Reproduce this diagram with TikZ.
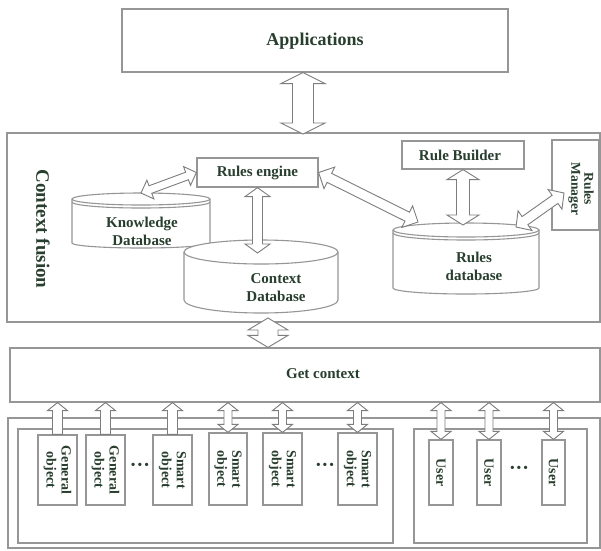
\documentclass[tikz,border=0pt]{standalone}
\usepackage{fontspec}
\setmainfont{Liberation Serif}
\usetikzlibrary{calc}
\definecolor{tx}{RGB}{40,62,46}
\definecolor{ln}{RGB}{150,150,150}
\definecolor{al}{RGB}{125,125,125}
\newcommand\fsbig{\fontsize{18}{20}\selectfont}
\newcommand\fscf{\fontsize{19}{21}\selectfont}
\newcommand\fsmid{\fontsize{15}{18}\selectfont}
\newcommand\fsobj{\fontsize{14}{15}\selectfont}
\newcommand\fsrm{\fontsize{13.5}{13}\selectfont}
\newcommand\fsdots{\fontsize{20}{20}\selectfont}
% double-headed block arrow: #1 start, #2 end, #3 shaft half width, #4 head half width, #5 head length
\newcommand\twoway[5]{%
 \filldraw[barrow] (#1) -- ($(#1)!#5!(#2)!#4!90:(#2)$) -- ($(#1)!#5!(#2)!#3!90:(#2)$)
 -- ($(#2)!#5!(#1)!#3!-90:(#1)$) -- ($(#2)!#5!(#1)!#4!-90:(#1)$) -- (#2)
 -- ($(#2)!#5!(#1)!#4!90:(#1)$) -- ($(#2)!#5!(#1)!#3!90:(#1)$)
 -- ($(#1)!#5!(#2)!#3!-90:(#2)$) -- ($(#1)!#5!(#2)!#4!-90:(#2)$) -- cycle;}
% single-headed block arrow, tip at #2
\newcommand\oneway[5]{%
 \filldraw[barrow] (#2) -- ($(#2)!#5!(#1)!#4!90:(#1)$) -- ($(#2)!#5!(#1)!#3!90:(#1)$)
 -- ($(#1)!#3!-90:(#2)$) -- ($(#1)!#3!90:(#2)$)
 -- ($(#2)!#5!(#1)!#3!-90:(#1)$) -- ($(#2)!#5!(#1)!#4!-90:(#1)$) -- cycle;}
\tikzset{
 box/.style={draw=ln, line width=1.2pt, fill=white, inner sep=0pt},
 barrow/.style={draw=al, line width=0.9pt, fill=white, line join=miter},
 lbl/.style={text=tx, font=\bfseries, align=center, inner sep=0pt},
 dotsl/.style={text=tx, font=\bfseries\fsdots, inner sep=0pt},
 cyl/.style={draw=ln, line width=1.1pt, fill=white},
}
\begin{document}
\begin{tikzpicture}[x=1pt,y=-1pt]
\useasboundingbox (0,0) rectangle (601,550);
\fill[white] (0,0) rectangle (601,550);

% Applications
\node[box, minimum width=386pt, minimum height=63pt] (app) at (315,40.5) {};
\node[lbl, font=\bfseries\fsbig] (appt) at (315,41) {Applications};

% Context fusion frame
\node[box, minimum width=593pt, minimum height=189pt] (cf) at (303.5,227.5) {};
\node[lbl, rotate=-90, font=\bfseries\fscf] (cft) at (43,229) {Context fusion};

% Rules engine, builder, manager
\node[box, minimum width=121pt, minimum height=29pt] (re) at (257.5,172.5) {};
\node[lbl, font=\bfseries\fsmid] (ret) at (257.5,172.5) {Rules engine};
\node[box, minimum width=122pt, minimum height=28pt] (rb) at (463,155) {};
\node[lbl, font=\bfseries\fsmid] (rbt) at (460,155) {Rule Builder};
\node[box, minimum width=47pt, minimum height=90pt] (rm) at (575.5,185) {};
\node[lbl, rotate=-90, font=\bfseries\fsrm] (rmt) at (581,189) {Rules\\Manager};

% Knowledge database cylinder
\filldraw[cyl] (72,199) -- (72,243) arc[start angle=180,end angle=360,x radius=69pt,y radius=5pt]
 -- (210,199) arc[start angle=0,end angle=180,x radius=69pt,y radius=6pt] -- cycle;
\draw[cyl,fill=none] (72,199) arc[start angle=180,end angle=360,x radius=69pt,y radius=6pt];
\draw[cyl,fill=none] (72,202) arc[start angle=180,end angle=360,x radius=69pt,y radius=6pt];
\node[lbl, font=\bfseries\fsmid] (kd) at (142,231) {Knowledge\\Database};
\coordinate (kdtop) at (141,193);

% Context database cylinder
\filldraw[cyl] (184,252) -- (184,300) arc[start angle=180,end angle=360,x radius=77pt,y radius=13pt]
 -- (338,252) arc[start angle=0,end angle=180,x radius=77pt,y radius=12pt] -- cycle;
\draw[cyl,fill=none] (184,252) arc[start angle=180,end angle=360,x radius=77pt,y radius=12pt];
\node[lbl, font=\bfseries\fsmid] (cd) at (276,287.5) {Context\\Database};
\coordinate (cdtop) at (259,253);
\coordinate (cdbot) at (268,318);

% Rules database cylinder
\filldraw[cyl] (393,230) -- (393,288) arc[start angle=180,end angle=360,x radius=73pt,y radius=6pt]
 -- (539,230) arc[start angle=0,end angle=180,x radius=73pt,y radius=7pt] -- cycle;
\draw[cyl,fill=none] (393,230) arc[start angle=180,end angle=360,x radius=73pt,y radius=7pt];
\draw[cyl,fill=none] (393,233) arc[start angle=180,end angle=360,x radius=73pt,y radius=7pt];
\node[lbl, font=\bfseries\fsmid] (rd) at (474,266) {Rules\\database};
\coordinate (rdtop) at (463,225);
\coordinate (rdleft) at (418,222);
\coordinate (rdright) at (516,227);
\coordinate (rmleft) at (564,193);

% Get context
\node[box, minimum width=590pt, minimum height=54pt] (gc) at (305,375) {};
\node[lbl, font=\bfseries\fsmid] (gct) at (323,374) {Get context};

% Lower frames
\node[box, minimum width=592pt, minimum height=130pt] (low) at (304,483) {};
\node[box, minimum width=375pt, minimum height=114pt] (objs) at (205.5,486) {};
\node[box, minimum width=173pt, minimum height=114pt] (users) at (500.5,486) {};

% Objects
\node[box, minimum width=39pt, minimum height=70pt] (g1) at (57.5,470) {};
\node[lbl, rotate=-90, font=\bfseries\fsobj] (g1t) at (g1) {General\\object};
\node[box, minimum width=39pt, minimum height=70pt] (g2) at (105.5,470) {};
\node[lbl, rotate=-90, font=\bfseries\fsobj] (g2t) at (g2) {General\\object};
\node[dotsl] (d1) at (140,467) {···};
\node[box, minimum width=39pt, minimum height=70pt] (s1) at (172.5,470) {};
\node[lbl, rotate=-90, font=\bfseries\fsobj] (s1t) at (s1) {Smart\\object};
\node[box, minimum width=38pt, minimum height=72pt] (s2) at (228,469) {};
\node[lbl, rotate=-90, font=\bfseries\fsobj] (s2t) at (s2) {Smart\\object};
\node[box, minimum width=39pt, minimum height=72pt] (s3) at (282.5,469) {};
\node[lbl, rotate=-90, font=\bfseries\fsobj] (s3t) at (s3) {Smart\\object};
\node[dotsl] (d2) at (325,467) {···};
\node[box, minimum width=39pt, minimum height=72pt] (s4) at (357.5,469) {};
\node[lbl, rotate=-90, font=\bfseries\fsobj] (s4t) at (s4) {Smart\\object};

% Users
\node[box, minimum width=24pt, minimum height=65pt] (u1) at (441,472.5) {};
\node[lbl, rotate=-90, font=\bfseries\fsobj] (u1t) at (u1) {User};
\node[box, minimum width=24pt, minimum height=65pt] (u2) at (489,472.5) {};
\node[lbl, rotate=-90, font=\bfseries\fsobj] (u2t) at (u2) {User};
\node[dotsl] (d3) at (519,470) {···};
\node[box, minimum width=23pt, minimum height=65pt] (u3) at (553.5,472.5) {};
\node[lbl, rotate=-90, font=\bfseries\fsobj] (u3t) at (u3) {User};

% Arrows
\twoway{app.south -| 303,0}{303,134}{10.5pt}{22pt}{11pt}
\twoway{re.west}{kdtop}{4pt}{10pt}{10pt}
\twoway{re.south}{re.south |- cdtop}{5pt}{12.5pt}{9pt}
\twoway{re.east}{rdleft}{5pt}{12pt}{12pt}
\twoway{rb.south}{rdtop}{6.5pt}{16pt}{10pt}
\twoway{rdright}{rmleft}{5pt}{12pt}{11pt}
\twoway{cdbot}{gc.north -| cdbot}{10pt}{20pt}{12pt}

\oneway{g1.north}{g1.north |- gc.south}{5pt}{10pt}{8pt}
\oneway{g2.north}{g2.north |- gc.south}{5pt}{10pt}{8pt}
\oneway{s1.north}{s1.north |- gc.south}{5pt}{10pt}{8pt}
\twoway{gc.south -| s2.north}{s2.north}{4pt}{10pt}{8pt}
\twoway{gc.south -| s3.north}{s3.north}{4pt}{10pt}{8pt}
\twoway{gc.south -| s4.north}{s4.north}{4pt}{10pt}{8pt}
\twoway{gc.south -| u1.north}{u1.north}{4pt}{10pt}{8pt}
\twoway{gc.south -| u2.north}{u2.north}{4pt}{10pt}{8pt}
\twoway{gc.south -| u3.north}{u3.north}{4pt}{10pt}{8pt}
\end{tikzpicture}
\end{document}
